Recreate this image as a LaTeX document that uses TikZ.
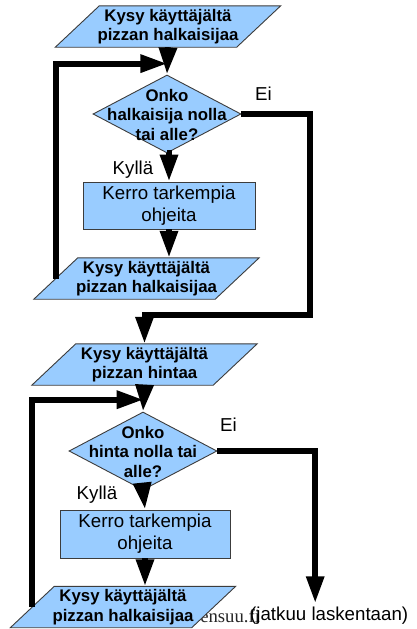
\documentclass[tikz,border=0pt]{standalone}
\usepackage{fontspec}
\setmainfont{Liberation Sans}
\newfontfamily\serifweb{Liberation Serif}
\usetikzlibrary{shapes.geometric,arrows.meta,calc}
\pgfdeclarelayer{back}
\pgfdeclarelayer{background}
\pgfsetlayers{back,background,main}

\definecolor{boxblue}{RGB}{153,204,255}
\definecolor{edgegray}{RGB}{60,60,60}

\tikzset{
  shapefill/.style={fill=boxblue,draw=edgegray,line width=0.9pt},
  boldtext/.style={font={\fontsize{16.8}{19.5}\selectfont\bfseries},align=center},
  plaintext/.style={font={\fontsize{18.7}{22}\selectfont},align=center},
  iobox/.style={boldtext,minimum width=181pt,minimum height=41pt,inner sep=0pt},
  decision/.style={diamond,shapefill,minimum width=148pt,minimum height=78pt,inner sep=0pt},
  stepbox/.style={rectangle,shapefill,plaintext,inner sep=0pt},
  flow/.style={line width=6pt,line join=miter,-{Triangle[length=27pt,width=17pt]}},
  branch/.style={plaintext,inner sep=0pt}
}

% parallelogram drawn behind a named text node
\newcommand\parashape[1]{%
  \begin{pgfonlayer}{background}
    \filldraw[shapefill] ([xshift=-22pt]#1.south west) -- ([xshift=22pt]#1.north west)
      -- ([xshift=22pt]#1.north east) -- ([xshift=-22pt]#1.south east) -- cycle;
  \end{pgfonlayer}}

\begin{document}
\begin{tikzpicture}[x=1pt,y=-1pt]
\useasboundingbox (0,0) rectangle (417,629);

% first part: diameter
\node[iobox] (p1) at (168,26.5) {Kysy käyttäjältä\\pizzan halkaisijaa};
\parashape{p1}
\node[decision] (d1) at (167,114) {};
\node[boldtext,inner sep=0pt] (d1t) at (167,114.5) {Onko\\halkaisija nolla\\tai alle?};
\node[stepbox,minimum width=172pt,minimum height=47pt] (b1) at (169,205.5) {Kerro tarkempia\\ohjeita};
\node[iobox] (p3) at (146.5,278.5) {Kysy käyttäjältä\\pizzan halkaisijaa};
\parashape{p3}

% second part: price
\node[iobox] (p2) at (144.5,364.5) {Kysy käyttäjältä\\pizzan hintaa};
\parashape{p2}
\node[decision] (d2) at (143,451) {};
\node[boldtext,inner sep=0pt] (d2t) at (143,451.5) {Onko\\hinta nolla tai\\alle?};
\node[stepbox,minimum width=170pt,minimum height=48pt] (b2) at (145,534) {Kerro tarkempia\\ohjeita};
\node[iobox] (p4) at (123,607) {Kysy käyttäjältä\\pizzan halkaisijaa};
\parashape{p4}

% web address under the last input box
\begin{pgfonlayer}{back}
\node[anchor=base west,inner sep=0pt,font={\serifweb\fontsize{18.7}{22}\selectfont},text=black!85] (web) at (185.5,622.5) {joensuu.fi};
\end{pgfonlayer}
\node[branch,anchor=base west] (cont) at (250,620) {(jatkuu laskentaan)};

% branch labels
\node[branch] (ei1) at (263.5,94) {Ei};
\node[branch] (ky1) at (133,170) {Kyllä};
\node[branch] (ei2) at (228.5,425) {Ei};
\node[branch] (ky2) at (97,495) {Kyllä};

% connectors
\coordinate (turn1) at (310,315);
\draw[flow] (p1.south) -- (d1.north);
\draw[flow] (d1.south) -- (b1.south |- d1.south) -- (b1.north);
\draw[flow] (b1.south) -- (b1.south |- p3.north);
\draw[flow] (p3.west) |- ($(p1.south)!0.6!(d1.north)$);
\draw[flow] (d1.east) -| (turn1) -| (p2.north);

\draw[flow] (p2.south) -- (d2.north);
\draw[flow] (d2.south) -- (b2.north);
\draw[flow] (b2.south) -- (b2.south |- p4.north);
\draw[flow] (p4.west) |- ($(p2.south)!0.55!(d2.north)$);
\draw[flow,shorten >=3pt] (d2.east) -| ([xshift=-14pt]cont.north);
\end{tikzpicture}
\end{document}
